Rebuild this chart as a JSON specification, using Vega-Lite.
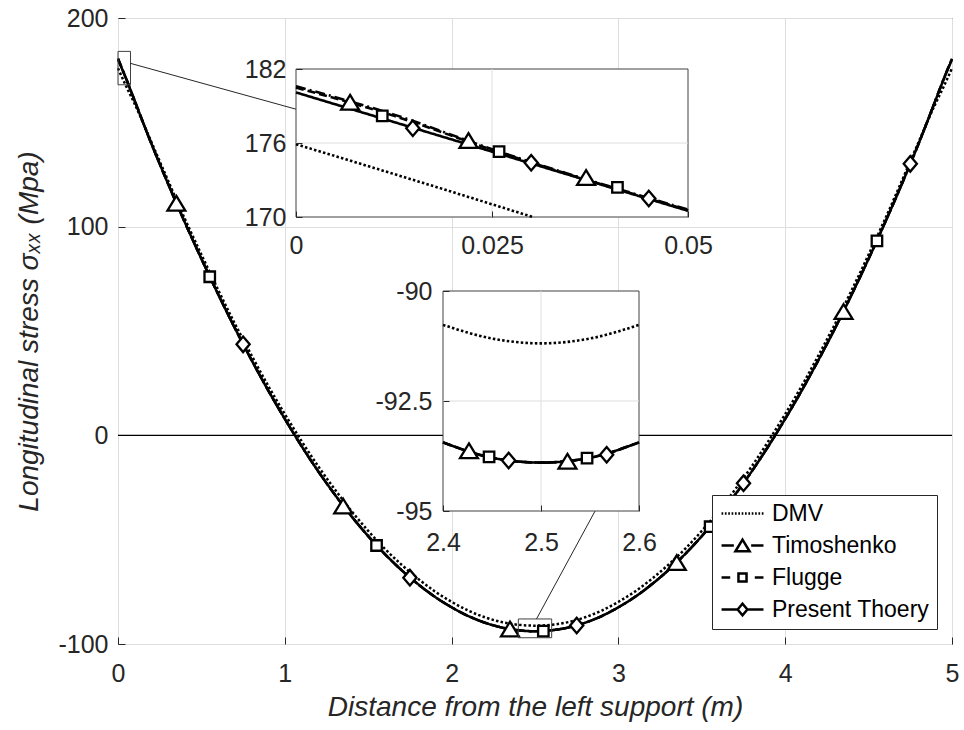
{
  "$schema": "https://vega.github.io/schema/vega-lite/v6.json",
  "width": 834,
  "height": 626,
  "autosize": {"type": "none"},
  "padding": {"left": 118, "top": 18, "right": 12, "bottom": 86},
  "background": "white",
  "config": {
    "view": {"stroke": "#262626", "strokeWidth": 1},
    "font": "Liberation Sans",
    "axis": {
      "labelFont": "Liberation Sans", "labelFontSize": 25, "labelColor": "#262626",
      "titleFont": "Liberation Sans", "titleFontSize": 28, "titleFontStyle": "italic",
      "titleFontWeight": "normal", "titleColor": "#262626",
      "domain": false, "grid": false, "ticks": true, "tickColor": "#262626", "tickWidth": 1,
      "labelOverlap": false, "labelFlush": false, "labelBound": false
    }
  },
  "datasets": {
    "main": [
      {"x": 0, "DMV": 175.9, "Timoshenko": 180.6, "Flugge": 180.5, "Present Thoery": 180.1},
      {"x": 0.05, "DMV": 167.1, "Timoshenko": 170.8, "Flugge": 170.7, "Present Thoery": 170.6},
      {"x": 0.1, "DMV": 158.8, "Timoshenko": 160.4, "Flugge": 160.4, "Present Thoery": 160.3},
      {"x": 0.2, "DMV": 140.6, "Timoshenko": 139.8, "Flugge": 139.8, "Present Thoery": 139.8},
      {"x": 0.3, "DMV": 122.1, "Timoshenko": 120.6, "Flugge": 120.6, "Present Thoery": 120.6},
      {"x": 0.4, "DMV": 103.9, "Timoshenko": 102.2, "Flugge": 102.2, "Present Thoery": 102.2},
      {"x": 0.5, "DMV": 86.6, "Timoshenko": 84.6, "Flugge": 84.6, "Present Thoery": 84.6},
      {"x": 0.6, "DMV": 69.8, "Timoshenko": 67.7, "Flugge": 67.7, "Present Thoery": 67.7},
      {"x": 0.7, "DMV": 53.6, "Timoshenko": 51.5, "Flugge": 51.5, "Present Thoery": 51.5},
      {"x": 0.8, "DMV": 38.4, "Timoshenko": 36.2, "Flugge": 36.2, "Present Thoery": 36.2},
      {"x": 0.9, "DMV": 23.8, "Timoshenko": 21.6, "Flugge": 21.6, "Present Thoery": 21.6},
      {"x": 1.0, "DMV": 10.2, "Timoshenko": 7.9, "Flugge": 7.9, "Present Thoery": 7.9},
      {"x": 1.1, "DMV": -2.7, "Timoshenko": -5.1, "Flugge": -5.1, "Present Thoery": -5.1},
      {"x": 1.2, "DMV": -14.8, "Timoshenko": -17.2, "Flugge": -17.2, "Present Thoery": -17.2},
      {"x": 1.3, "DMV": -25.9, "Timoshenko": -28.4, "Flugge": -28.4, "Present Thoery": -28.4},
      {"x": 1.4, "DMV": -36.3, "Timoshenko": -38.8, "Flugge": -38.8, "Present Thoery": -38.8},
      {"x": 1.5, "DMV": -45.8, "Timoshenko": -48.3, "Flugge": -48.3, "Present Thoery": -48.3},
      {"x": 1.6, "DMV": -54.4, "Timoshenko": -56.9, "Flugge": -56.9, "Present Thoery": -56.9},
      {"x": 1.7, "DMV": -62.0, "Timoshenko": -64.6, "Flugge": -64.6, "Present Thoery": -64.6},
      {"x": 1.8, "DMV": -68.8, "Timoshenko": -71.4, "Flugge": -71.4, "Present Thoery": -71.4},
      {"x": 1.9, "DMV": -74.8, "Timoshenko": -77.4, "Flugge": -77.4, "Present Thoery": -77.4},
      {"x": 2.0, "DMV": -79.8, "Timoshenko": -82.4, "Flugge": -82.4, "Present Thoery": -82.4},
      {"x": 2.1, "DMV": -84.0, "Timoshenko": -86.6, "Flugge": -86.6, "Present Thoery": -86.6},
      {"x": 2.2, "DMV": -87.2, "Timoshenko": -89.8, "Flugge": -89.8, "Present Thoery": -89.8},
      {"x": 2.3, "DMV": -89.5, "Timoshenko": -92.1, "Flugge": -92.1, "Present Thoery": -92.1},
      {"x": 2.4, "DMV": -90.8, "Timoshenko": -93.4, "Flugge": -93.4, "Present Thoery": -93.4},
      {"x": 2.5, "DMV": -91.2, "Timoshenko": -93.9, "Flugge": -93.9, "Present Thoery": -93.9},
      {"x": 2.6, "DMV": -90.8, "Timoshenko": -93.4, "Flugge": -93.4, "Present Thoery": -93.4},
      {"x": 2.7, "DMV": -89.5, "Timoshenko": -92.1, "Flugge": -92.1, "Present Thoery": -92.1},
      {"x": 2.8, "DMV": -87.2, "Timoshenko": -89.8, "Flugge": -89.8, "Present Thoery": -89.8},
      {"x": 2.9, "DMV": -84.0, "Timoshenko": -86.6, "Flugge": -86.6, "Present Thoery": -86.6},
      {"x": 3.0, "DMV": -79.8, "Timoshenko": -82.4, "Flugge": -82.4, "Present Thoery": -82.4},
      {"x": 3.1, "DMV": -74.8, "Timoshenko": -77.4, "Flugge": -77.4, "Present Thoery": -77.4},
      {"x": 3.2, "DMV": -68.8, "Timoshenko": -71.4, "Flugge": -71.4, "Present Thoery": -71.4},
      {"x": 3.3, "DMV": -62.0, "Timoshenko": -64.6, "Flugge": -64.6, "Present Thoery": -64.6},
      {"x": 3.4, "DMV": -54.4, "Timoshenko": -56.9, "Flugge": -56.9, "Present Thoery": -56.9},
      {"x": 3.5, "DMV": -45.8, "Timoshenko": -48.3, "Flugge": -48.3, "Present Thoery": -48.3},
      {"x": 3.6, "DMV": -36.3, "Timoshenko": -38.8, "Flugge": -38.8, "Present Thoery": -38.8},
      {"x": 3.7, "DMV": -25.9, "Timoshenko": -28.4, "Flugge": -28.4, "Present Thoery": -28.4},
      {"x": 3.8, "DMV": -14.8, "Timoshenko": -17.2, "Flugge": -17.2, "Present Thoery": -17.2},
      {"x": 3.9, "DMV": -2.7, "Timoshenko": -5.1, "Flugge": -5.1, "Present Thoery": -5.1},
      {"x": 4.0, "DMV": 10.2, "Timoshenko": 7.9, "Flugge": 7.9, "Present Thoery": 7.9},
      {"x": 4.1, "DMV": 23.8, "Timoshenko": 21.6, "Flugge": 21.6, "Present Thoery": 21.6},
      {"x": 4.2, "DMV": 38.4, "Timoshenko": 36.2, "Flugge": 36.2, "Present Thoery": 36.2},
      {"x": 4.3, "DMV": 53.6, "Timoshenko": 51.5, "Flugge": 51.5, "Present Thoery": 51.5},
      {"x": 4.4, "DMV": 69.8, "Timoshenko": 67.7, "Flugge": 67.7, "Present Thoery": 67.7},
      {"x": 4.5, "DMV": 86.6, "Timoshenko": 84.6, "Flugge": 84.6, "Present Thoery": 84.6},
      {"x": 4.6, "DMV": 103.9, "Timoshenko": 102.2, "Flugge": 102.2, "Present Thoery": 102.2},
      {"x": 4.7, "DMV": 122.1, "Timoshenko": 120.6, "Flugge": 120.6, "Present Thoery": 120.6},
      {"x": 4.8, "DMV": 140.6, "Timoshenko": 139.8, "Flugge": 139.8, "Present Thoery": 139.8},
      {"x": 4.9, "DMV": 158.8, "Timoshenko": 160.4, "Flugge": 160.4, "Present Thoery": 160.3},
      {"x": 4.95, "DMV": 167.1, "Timoshenko": 170.8, "Flugge": 170.7, "Present Thoery": 170.6},
      {"x": 5, "DMV": 175.9, "Timoshenko": 180.6, "Flugge": 180.5, "Present Thoery": 180.1}
    ],
    "mainMarkers": [
      {"series": "Timoshenko", "x": 0.35, "y": 111.2},
      {"series": "Timoshenko", "x": 1.35, "y": -33.9},
      {"series": "Timoshenko", "x": 2.35, "y": -92.8},
      {"series": "Timoshenko", "x": 3.35, "y": -61.0},
      {"series": "Timoshenko", "x": 4.35, "y": 59.3},
      {"series": "Flugge", "x": 0.55, "y": 76.0},
      {"series": "Flugge", "x": 1.55, "y": -52.8},
      {"series": "Flugge", "x": 2.55, "y": -93.8},
      {"series": "Flugge", "x": 3.55, "y": -43.8},
      {"series": "Flugge", "x": 4.55, "y": 93.2},
      {"series": "Present Thoery", "x": 0.75, "y": 43.6},
      {"series": "Present Thoery", "x": 1.75, "y": -68.2},
      {"series": "Present Thoery", "x": 2.75, "y": -91.1},
      {"series": "Present Thoery", "x": 3.75, "y": -23.0},
      {"series": "Present Thoery", "x": 4.75, "y": 130.1}
    ],
    "inset1Lines": [
      {"series": "DMV", "x": 0, "y": 175.9},
      {"series": "DMV", "x": 0.015, "y": 173.0},
      {"series": "DMV", "x": 0.0302, "y": 170.0},
      {"series": "Timoshenko", "x": 0, "y": 180.6},
      {"series": "Timoshenko", "x": 0.0125, "y": 178.3},
      {"series": "Timoshenko", "x": 0.025, "y": 175.5},
      {"series": "Timoshenko", "x": 0.05, "y": 170.6},
      {"series": "Flugge", "x": 0, "y": 180.5},
      {"series": "Flugge", "x": 0.0125, "y": 178.2},
      {"series": "Flugge", "x": 0.025, "y": 175.45},
      {"series": "Flugge", "x": 0.05, "y": 170.55},
      {"series": "Present Thoery", "x": 0, "y": 180.1},
      {"series": "Present Thoery", "x": 0.025, "y": 175.3},
      {"series": "Present Thoery", "x": 0.05, "y": 170.5}
    ],
    "inset1Markers": [
      {"series": "Timoshenko", "x": 0.0069, "y": 179.3},
      {"series": "Timoshenko", "x": 0.022, "y": 176.2},
      {"series": "Timoshenko", "x": 0.037, "y": 173.2},
      {"series": "Flugge", "x": 0.011, "y": 178.2},
      {"series": "Flugge", "x": 0.0259, "y": 175.3},
      {"series": "Flugge", "x": 0.041, "y": 172.4},
      {"series": "Present Thoery", "x": 0.0149, "y": 177.2},
      {"series": "Present Thoery", "x": 0.03, "y": 174.4},
      {"series": "Present Thoery", "x": 0.045, "y": 171.5}
    ],
    "inset2Lines": [
      {"series": "DMV", "x": 2.4, "y": -90.77},
      {"series": "DMV", "x": 2.45, "y": -91.08},
      {"series": "DMV", "x": 2.5, "y": -91.19},
      {"series": "DMV", "x": 2.55, "y": -91.08},
      {"series": "DMV", "x": 2.6, "y": -90.77},
      {"series": "Timoshenko", "x": 2.4, "y": -93.44},
      {"series": "Timoshenko", "x": 2.45, "y": -93.79},
      {"series": "Timoshenko", "x": 2.5, "y": -93.9},
      {"series": "Timoshenko", "x": 2.55, "y": -93.79},
      {"series": "Timoshenko", "x": 2.6, "y": -93.44},
      {"series": "Flugge", "x": 2.4, "y": -93.44},
      {"series": "Flugge", "x": 2.45, "y": -93.79},
      {"series": "Flugge", "x": 2.5, "y": -93.9},
      {"series": "Flugge", "x": 2.55, "y": -93.79},
      {"series": "Flugge", "x": 2.6, "y": -93.44},
      {"series": "Present Thoery", "x": 2.4, "y": -93.44},
      {"series": "Present Thoery", "x": 2.45, "y": -93.79},
      {"series": "Present Thoery", "x": 2.5, "y": -93.9},
      {"series": "Present Thoery", "x": 2.55, "y": -93.79},
      {"series": "Present Thoery", "x": 2.6, "y": -93.44}
    ],
    "inset2Markers": [
      {"series": "Timoshenko", "x": 2.4265, "y": -93.63},
      {"series": "Timoshenko", "x": 2.527, "y": -93.87},
      {"series": "Flugge", "x": 2.447, "y": -93.77},
      {"series": "Flugge", "x": 2.547, "y": -93.8},
      {"series": "Present Thoery", "x": 2.467, "y": -93.85},
      {"series": "Present Thoery", "x": 2.567, "y": -93.72}
    ]
  },
  "layer": [
    {
      "layer": [
        {
          "data": {"values": [{"y": 0}]},
          "mark": {"type": "rule", "color": "black", "strokeWidth": 1.3},
          "encoding": {
            "y": {"field": "y", "type": "quantitative", "scale": {"domain": [-100, 200], "nice": false, "zero": false}}
          }
        },
        {
          "data": {"name": "main"},
          "transform": [{"fold": ["DMV", "Timoshenko", "Flugge", "Present Thoery"], "as": ["series", "y"]}],
          "mark": {"type": "line", "color": "black", "strokeWidth": 2.5, "interpolate": "monotone"},
          "encoding": {
            "x": {"field": "x", "type": "quantitative",
              "scale": {"domain": [0, 5], "nice": false, "zero": false},
              "axis": {"title": "Distance from the left support (m)", "values": [0, 1, 2, 3, 4, 5],
                "labelExpr": "'' + datum.value", "grid": true, "gridColor": "#dedede",
                "tickSize": -7, "labelPadding": 24, "titlePadding": 7}},
            "y": {"field": "y", "type": "quantitative",
              "scale": {"domain": [-100, 200], "nice": false, "zero": false},
              "axis": {"title": "Longitudinal stress σₓₓ (Mpa)", "values": [-100, 0, 100, 200],
                "labelExpr": "'' + datum.value", "grid": true, "gridColor": "#dedede",
                "tickSize": -7, "labelPadding": 17, "titlePadding": 14}},
            "detail": {"field": "series"},
            "strokeDash": {"field": "series", "type": "nominal",
              "scale": {"domain": ["Present Thoery", "Flugge", "Timoshenko", "DMV"], "range": [[1, 0], [8, 4], [10, 4, 2, 4], [2.5, 2.2]]},
              "legend": null}
          }
        },
        {
          "data": {"name": "mainMarkers"},
          "transform": [{"filter": "datum.series === 'Timoshenko'"}],
          "mark": {"type": "point", "shape": "M0,-0.82L1,0.82L-1,0.82Z", "size": 320, "filled": true, "fill": "white", "stroke": "black", "strokeWidth": 2.3, "opacity": 1},
          "encoding": {"x": {"field": "x", "type": "quantitative"}, "y": {"field": "y", "type": "quantitative"}}
        },
        {
          "data": {"name": "mainMarkers"},
          "transform": [{"filter": "datum.series === 'Flugge'"}],
          "mark": {"type": "point", "shape": "square", "size": 110, "filled": true, "fill": "white", "stroke": "black", "strokeWidth": 2.3, "opacity": 1},
          "encoding": {"x": {"field": "x", "type": "quantitative"}, "y": {"field": "y", "type": "quantitative"}}
        },
        {
          "data": {"name": "mainMarkers"},
          "transform": [{"filter": "datum.series === 'Present Thoery'"}],
          "mark": {"type": "point", "shape": "M-0.85,0L0,-1L0.85,0L0,1Z", "size": 240, "filled": true, "fill": "white", "stroke": "black", "strokeWidth": 2.3, "opacity": 1},
          "encoding": {"x": {"field": "x", "type": "quantitative"}, "y": {"field": "y", "type": "quantitative"}}
        },
        {
          "data": {"name": "mainMarkers"},
          "transform": [{"filter": "false"}],
          "mark": {"type": "point", "filled": true, "fill": "white", "stroke": "black", "strokeWidth": 2.5, "opacity": 1},
          "encoding": {
            "x": {"field": "x", "type": "quantitative"},
            "y": {"field": "y", "type": "quantitative"},
            "shape": {"field": "series", "type": "nominal",
              "scale": {"domain": ["DMV", "Timoshenko", "Flugge", "Present Thoery"],
                "range": [
                  "M-3.225,0L-2.967,0M-2.709,0L-2.451,0M-2.193,0L-1.935,0M-1.677,0L-1.419,0M-1.161,0L-0.903,0M-0.645,0L-0.387,0M-0.129,0L0.129,0M0.387,0L0.645,0M0.903,0L1.161,0M1.419,0L1.677,0M1.935,0L2.193,0M2.451,0L2.709,0M2.967,0L3.225,0",
                  "M-3.225,0L-1.33,0M0,-0.9L1.09,0.9L-1.09,0.9ZM1.33,0L3.225,0",
                  "M-3.225,0L-1.89,0M-0.62,-0.62L0.62,-0.62L0.62,0.62L-0.62,0.62ZM1.89,0L3.225,0",
                  "M-3.225,0L-0.75,0M-0.75,0L0,-0.9L0.75,0L0,0.9ZM0.75,0L3.225,0"
                ]},
              "legend": {
                "title": null, "orient": "bottom-right", "offset": 15,
                "padding": 7, "rowPadding": 8, "fillColor": "white", "strokeColor": "#262626",
                "labelFont": "Liberation Sans", "labelFontSize": 23, "labelColor": "black",
                "labelOffset": 18, "symbolOffset": 12, "symbolSize": 169, "labelLimit": 300,
                "symbolStrokeWidth": 2.5,
                "encode": {"symbols": {"fill": {"value": "white"}, "stroke": {"value": "black"}, "strokeWidth": {"value": 2.5}, "opacity": {"value": 1}, "fillOpacity": {"value": 1}, "strokeOpacity": {"value": 1}}}
              }
            }
          }
        },
        {
          "data": {"values": [{"x": 0, "x2": 0.075, "y": 168, "y2": 184}, {"x": 2.4, "x2": 2.6, "y": -97, "y2": -88}]},
          "mark": {"type": "rect", "fill": null, "fillOpacity": 0, "stroke": "#404040", "strokeWidth": 1},
          "encoding": {
            "x": {"field": "x", "type": "quantitative"}, "x2": {"field": "x2"},
            "y": {"field": "y", "type": "quantitative"}, "y2": {"field": "y2"}
          }
        },
        {
          "data": {"values": [{"x": 0.073, "x2": 1.067, "y": 178.3, "y2": 156.3}, {"x": 2.509, "x2": 2.86, "y": -88, "y2": -36.3}]},
          "mark": {"type": "rule", "color": "#262626", "strokeWidth": 1},
          "encoding": {
            "x": {"field": "x", "type": "quantitative"}, "x2": {"field": "x2"},
            "y": {"field": "y", "type": "quantitative"}, "y2": {"field": "y2"}
          }
        }
      ]
    },
    {
      "layer": [
        {
          "data": {"values": [{"x": 0, "x2": 0.05, "y": 170, "y2": 182}]},
          "mark": {"type": "rect", "fill": "white", "stroke": "#404040", "strokeWidth": 1},
          "encoding": {
            "x": {"field": "x", "type": "quantitative",
              "scale": {"domain": [0, 0.05], "range": [178, 570], "nice": false, "zero": false},
              "axis": {"orient": "bottom", "offset": -427, "values": [0, 0.025, 0.05], "labelExpr": "'' + datum.value",
                "title": null, "tickSize": -6, "labelPadding": 22, "zindex": 1}},
            "x2": {"field": "x2"},
            "y": {"field": "y", "type": "quantitative",
              "scale": {"domain": [170, 182], "range": [199, 51], "nice": false, "zero": false},
              "axis": {"orient": "left", "offset": -178, "values": [170, 176, 182], "labelExpr": "'' + datum.value",
                "title": null, "tickSize": -6, "labelPadding": 16, "zindex": 1}},
            "y2": {"field": "y2"}
          }
        },
        {
          "data": {"values": [{"x": 0.025, "x2": 0.025, "y": 170, "y2": 182}, {"x": 0, "x2": 0.05, "y": 176, "y2": 176}]},
          "mark": {"type": "rule", "color": "#dedede", "strokeWidth": 1},
          "encoding": {
            "x": {"field": "x", "type": "quantitative"}, "x2": {"field": "x2"},
            "y": {"field": "y", "type": "quantitative"}, "y2": {"field": "y2"}
          }
        },
        {
          "data": {"name": "inset1Lines"},
          "mark": {"type": "line", "color": "black", "strokeWidth": 2.6, "interpolate": "monotone"},
          "encoding": {
            "x": {"field": "x", "type": "quantitative"},
            "y": {"field": "y", "type": "quantitative"},
            "detail": {"field": "series"},
            "strokeDash": {"field": "series", "type": "nominal", "legend": null}
          }
        },
        {
          "data": {"name": "inset1Markers"},
          "transform": [{"filter": "datum.series === 'Timoshenko'"}],
          "mark": {"type": "point", "shape": "M0,-0.82L1,0.82L-1,0.82Z", "size": 320, "filled": true, "fill": "white", "stroke": "black", "strokeWidth": 2.3, "opacity": 1},
          "encoding": {"x": {"field": "x", "type": "quantitative"}, "y": {"field": "y", "type": "quantitative"}}
        },
        {
          "data": {"name": "inset1Markers"},
          "transform": [{"filter": "datum.series === 'Flugge'"}],
          "mark": {"type": "point", "shape": "square", "size": 110, "filled": true, "fill": "white", "stroke": "black", "strokeWidth": 2.3, "opacity": 1},
          "encoding": {"x": {"field": "x", "type": "quantitative"}, "y": {"field": "y", "type": "quantitative"}}
        },
        {
          "data": {"name": "inset1Markers"},
          "transform": [{"filter": "datum.series === 'Present Thoery'"}],
          "mark": {"type": "point", "shape": "M-0.85,0L0,-1L0.85,0L0,1Z", "size": 240, "filled": true, "fill": "white", "stroke": "black", "strokeWidth": 2.3, "opacity": 1},
          "encoding": {"x": {"field": "x", "type": "quantitative"}, "y": {"field": "y", "type": "quantitative"}}
        }
      ]
    },
    {
      "layer": [
        {
          "data": {"values": [{"x": 2.4, "x2": 2.6, "y": -95, "y2": -90}]},
          "mark": {"type": "rect", "fill": "white", "stroke": "#404040", "strokeWidth": 1},
          "encoding": {
            "x": {"field": "x", "type": "quantitative",
              "scale": {"domain": [2.4, 2.6], "range": [325, 521], "nice": false, "zero": false},
              "axis": {"orient": "bottom", "offset": -133, "values": [2.4, 2.5, 2.6], "labelExpr": "'' + datum.value",
                "title": null, "tickSize": -6, "labelPadding": 25, "zindex": 1}},
            "x2": {"field": "x2"},
            "y": {"field": "y", "type": "quantitative",
              "scale": {"domain": [-95, -90], "range": [493, 273], "nice": false, "zero": false},
              "axis": {"orient": "left", "offset": -325, "values": [-95, -92.5, -90], "labelExpr": "'' + datum.value",
                "title": null, "tickSize": -6, "labelPadding": 17, "zindex": 1}},
            "y2": {"field": "y2"}
          }
        },
        {
          "data": {"values": [{"x": 2.5, "x2": 2.5, "y": -95, "y2": -90}, {"x": 2.4, "x2": 2.6, "y": -92.5, "y2": -92.5}]},
          "mark": {"type": "rule", "color": "#dedede", "strokeWidth": 1},
          "encoding": {
            "x": {"field": "x", "type": "quantitative"}, "x2": {"field": "x2"},
            "y": {"field": "y", "type": "quantitative"}, "y2": {"field": "y2"}
          }
        },
        {
          "data": {"name": "inset2Lines"},
          "mark": {"type": "line", "color": "black", "strokeWidth": 2.6, "interpolate": "monotone"},
          "encoding": {
            "x": {"field": "x", "type": "quantitative"},
            "y": {"field": "y", "type": "quantitative"},
            "detail": {"field": "series"},
            "strokeDash": {"field": "series", "type": "nominal", "legend": null}
          }
        },
        {
          "data": {"name": "inset2Markers"},
          "transform": [{"filter": "datum.series === 'Timoshenko'"}],
          "mark": {"type": "point", "shape": "M0,-0.82L1,0.82L-1,0.82Z", "size": 320, "filled": true, "fill": "white", "stroke": "black", "strokeWidth": 2.3, "opacity": 1},
          "encoding": {"x": {"field": "x", "type": "quantitative"}, "y": {"field": "y", "type": "quantitative"}}
        },
        {
          "data": {"name": "inset2Markers"},
          "transform": [{"filter": "datum.series === 'Flugge'"}],
          "mark": {"type": "point", "shape": "square", "size": 110, "filled": true, "fill": "white", "stroke": "black", "strokeWidth": 2.3, "opacity": 1},
          "encoding": {"x": {"field": "x", "type": "quantitative"}, "y": {"field": "y", "type": "quantitative"}}
        },
        {
          "data": {"name": "inset2Markers"},
          "transform": [{"filter": "datum.series === 'Present Thoery'"}],
          "mark": {"type": "point", "shape": "M-0.85,0L0,-1L0.85,0L0,1Z", "size": 240, "filled": true, "fill": "white", "stroke": "black", "strokeWidth": 2.3, "opacity": 1},
          "encoding": {"x": {"field": "x", "type": "quantitative"}, "y": {"field": "y", "type": "quantitative"}}
        }
      ]
    }
  ],
  "resolve": {"scale": {"x": "independent", "y": "independent"}, "axis": {"x": "independent", "y": "independent"}}
}
